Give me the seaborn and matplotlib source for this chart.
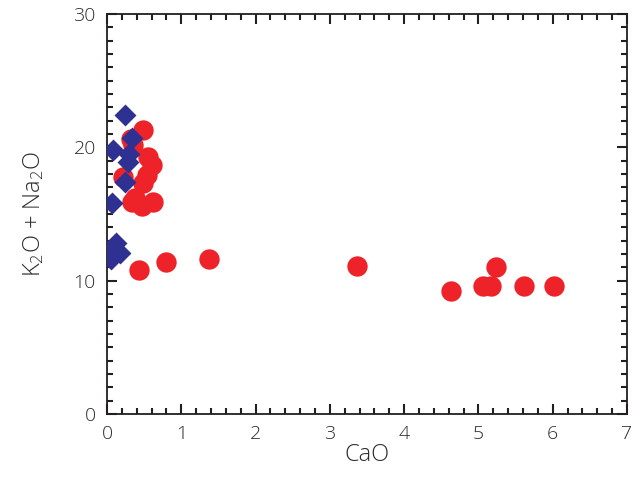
import matplotlib
matplotlib.use("Agg")
import matplotlib.pyplot as plt
import seaborn as sns
import pandas as pd
from matplotlib.ticker import MultipleLocator

# Data
red_cao = [0.49, 0.32, 0.35, 0.55, 0.60, 0.22, 0.54, 0.49, 0.38, 0.62, 0.47, 0.34,
           0.43, 0.80, 1.37, 3.37, 4.63, 5.06, 5.17, 5.23, 5.62, 6.02]
red_alk = [21.3, 20.6, 20.2, 19.3, 18.7, 17.8, 17.9, 17.3, 16.2, 15.9, 15.6, 15.9,
           10.8, 11.4, 11.6, 11.1, 9.2, 9.6, 9.6, 11.0, 9.6, 9.6]
blue_cao = [0.24, 0.34, 0.08, 0.30, 0.28, 0.24, 0.07,
            0.12, 0.02, 0.18, 0.05, 0.10, 0.07]
blue_alk = [22.4, 20.7, 19.8, 19.5, 18.9, 17.4, 15.8,
            12.8, 12.2, 12.1, 11.6, 11.9, 12.4]

x_ticks = [0, 1, 2, 3, 4, 5, 6, 7]
y_ticks = [0, 10, 20, 30]

red_df = pd.DataFrame({"CaO": red_cao, "Alk": red_alk})
blue_df = pd.DataFrame({"CaO": blue_cao, "Alk": blue_alk})

sns.set_theme(style="white")
plt.rcParams["font.family"] = ["Open Sans", "DejaVu Sans"]
plt.rcParams["font.weight"] = "light"
plt.rcParams["axes.labelweight"] = "light"
plt.rcParams["mathtext.default"] = "regular"

fig = plt.figure(figsize=(6.4, 4.96), dpi=100)
ax = fig.add_axes([107/640, 1 - 414/496, 520/640, 400/496])

sns.scatterplot(data=red_df, x="CaO", y="Alk", ax=ax, color="#EE2229",
                marker="o", s=215, linewidth=0, zorder=3)
sns.scatterplot(data=blue_df, x="CaO", y="Alk", ax=ax, color="#2E3192",
                marker="D", s=125, linewidth=0, zorder=4)

ax.set_xlim(0, 7)
ax.set_ylim(0, 30)
ax.set_xticks(x_ticks)
ax.set_yticks(y_ticks)
ax.xaxis.set_minor_locator(MultipleLocator(0.2))
ax.yaxis.set_minor_locator(MultipleLocator(1))
ax.tick_params(which="both", direction="in", top=True, right=True,
               bottom=True, left=True, color="#231F20", width=1.5)
ax.tick_params(which="major", length=7, labelsize=14, labelcolor="#2b2b2b", pad=8)
ax.tick_params(which="minor", length=4)
for sp in ax.spines.values():
    sp.set_color("#231F20")
    sp.set_linewidth(1.3)

ax.set_xlabel("CaO", fontsize=17, color="#2b2b2b", labelpad=0, fontweight="light")
ax.set_ylabel(r"K$_2$O + Na$_2$O", fontsize=17, color="#2b2b2b", labelpad=20,
              fontweight="light")

fig.savefig("out.png", dpi=100)
